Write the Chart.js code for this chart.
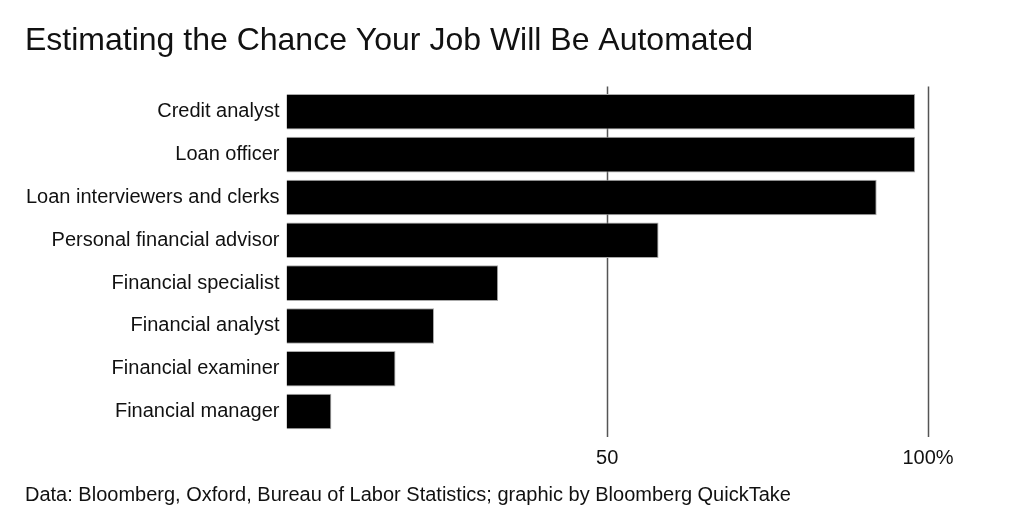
<!DOCTYPE html>
<html>
<head>
<meta charset="utf-8">
<script src="https://cdn.jsdelivr.net/npm/chart.js@4/dist/chart.umd.min.js"></script>
<style>
  html, body { margin: 0; padding: 0; background: #fff; }
  #wrap { width: 1024px; height: 525px; }
</style>
</head>
<body>
<div id="wrap"><canvas id="chart"></canvas></div>
<script>
// Data
const jobs = [
    'Credit analyst',
    'Loan officer',
    'Loan interviewers and clerks',
    'Personal financial advisor',
    'Financial specialist',
    'Financial analyst',
    'Financial examiner',
    'Financial manager'
];
const chance = [98, 98, 92, 58, 33, 23, 17, 7];
const xTicks = [50, 100];

const FONT = '"Liberation Sans", Arial, Helvetica, sans-serif';

// Vertical reference lines at the x ticks, slightly taller than the plot
const refLines = {
    id: 'refLines',
    beforeDatasetsDraw(chart) {
        const { ctx, chartArea, scales } = chart;
        ctx.save();
        ctx.strokeStyle = '#555';
        ctx.lineWidth = 1.5;
        xTicks.forEach(v => {
            const x = Math.round(scales.x.getPixelForValue(v)) + 0.5;
            ctx.beginPath();
            ctx.moveTo(x, chartArea.top - 4);
            ctx.lineTo(x, chartArea.bottom + 4);
            ctx.stroke();
        });
        ctx.restore();
    }
};

new Chart(document.getElementById('chart'), {
    type: 'bar',
    data: {
        labels: jobs,
        datasets: [{
            data: chance,
            backgroundColor: '#000',
            borderColor: '#aaa',
            borderWidth: 1,
            barPercentage: 0.83,
            categoryPercentage: 1
        }]
    },
    options: {
        indexAxis: 'y',
        responsive: true,
        maintainAspectRatio: false,
        animation: false,
        layout: {
            padding: { top: 22, left: 25, right: 96, bottom: 18 }
        },
        scales: {
            x: {
                min: 0,
                max: 100,
                afterBuildTicks: axis => { axis.ticks = xTicks.map(v => ({ value: v })); },
                grid: { display: false, drawTicks: false },
                border: { display: false },
                ticks: {
                    color: '#111',
                    font: { family: FONT, size: 20 },
                    padding: 13,
                    maxRotation: 0,
                    callback: v => v === 100 ? '100%' : v
                }
            },
            y: {
                afterFit: axis => { axis.width -= 6; },
                grid: { display: false, drawTicks: false },
                border: { display: false },
                ticks: {
                    color: '#111',
                    font: { family: FONT, size: 20 },
                    padding: 7
                }
            }
        },
        plugins: {
            legend: { display: false },
            tooltip: { enabled: false },
            title: {
                display: true,
                text: 'Estimating the Chance Your Job Will Be Automated',
                align: 'start',
                color: '#111',
                font: { family: FONT, size: 32, weight: 'normal' },
                padding: { top: 0, bottom: 30 }
            },
            subtitle: {
                display: true,
                position: 'bottom',
                text: 'Data: Bloomberg, Oxford, Bureau of Labor Statistics; graphic by Bloomberg QuickTake',
                align: 'start',
                color: '#111',
                font: { family: FONT, size: 20, weight: 'normal' },
                padding: { top: 0, bottom: 0 }
            }
        }
    },
    plugins: [refLines]
});
</script>
</body>
</html>
